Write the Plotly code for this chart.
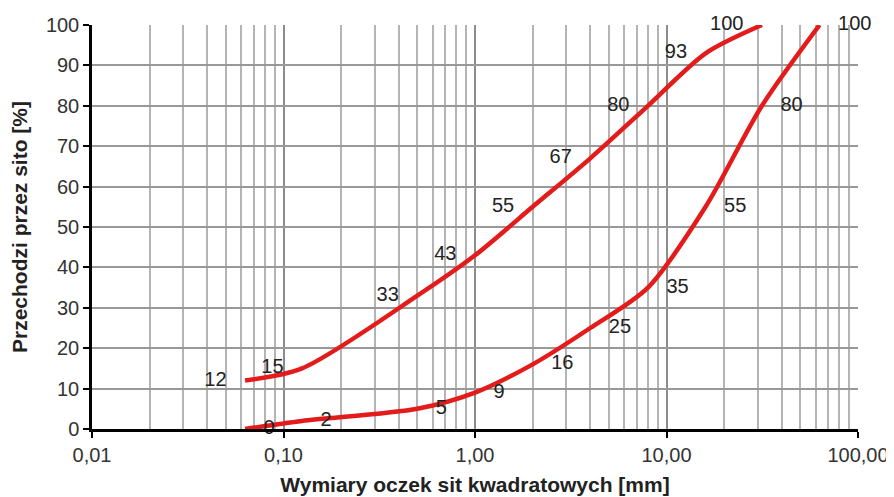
import plotly.graph_objects as go

sieve_upper = [0.063, 0.125, 0.5, 1, 2, 4, 8, 16, 31.5]
pass_upper = [12, 15, 33, 43, 55, 67, 80, 93, 100]
sieve_lower = [0.063, 0.125, 0.5, 1, 2, 4, 8, 16, 31.5, 63]
pass_lower = [0, 2, 5, 9, 16, 25, 35, 55, 80, 100]

x_tickvals = [0.01, 0.1, 1, 10, 100]
x_ticktext = ["0,01", "0,10", "1,00", "10,00", "100,00"]
y_tickvals = [0, 10, 20, 30, 40, 50, 60, 70, 80, 90, 100]

RED = "#e31b1b"
FONT = "Liberation Sans, Arial, sans-serif"

fig = go.Figure()
fig.add_trace(go.Scatter(
    x=sieve_upper, y=pass_upper, mode="lines+markers+text",
    line=dict(color=RED, width=4.5, shape="spline", smoothing=0.8),
    marker=dict(size=28, opacity=0, color=RED),
    text=[str(v) for v in pass_upper], textposition="middle left",
    textfont=dict(family=FONT, size=20, color="#222"),
    cliponaxis=False, showlegend=False, hoverinfo="x+y"))
fig.add_trace(go.Scatter(
    x=sieve_lower, y=pass_lower, mode="lines+markers+text",
    line=dict(color=RED, width=4.5, shape="spline", smoothing=0.8),
    marker=dict(size=28, opacity=0, color=RED),
    text=[str(v) for v in pass_lower], textposition="middle right",
    textfont=dict(family=FONT, size=20, color="#222"),
    cliponaxis=False, showlegend=False, hoverinfo="x+y"))

fig.update_layout(
    width=886, height=489,
    margin=dict(l=84, r=36, t=17, b=68, autoexpand=False),
    paper_bgcolor="white", plot_bgcolor="white",
    font=dict(family=FONT, color="#333"),
    xaxis=dict(
        type="log", range=[-2, 2],
        tickmode="array", tickvals=x_tickvals, ticktext=x_ticktext,
        tickfont=dict(size=20, color="#333"),
        showgrid=True, gridcolor="#8c8c8c", gridwidth=1.5,
        minor=dict(dtick="D1", showgrid=True, gridcolor="#b4b4b4", gridwidth=1.5, ticks=""),
        showline=True, linecolor="black", linewidth=2.5,
        ticks="outside", ticklen=6, tickwidth=2, tickcolor="black",
        zeroline=False, automargin=False,
        title=dict(text="<b>Wymiary oczek sit kwadratowych [mm]</b>", font=dict(size=21, color="#222"), standoff=13),
    ),
    yaxis=dict(
        range=[0, 100], tickmode="array", tickvals=y_tickvals,
        tickfont=dict(size=20, color="#333"),
        showgrid=True, gridcolor="#999999", gridwidth=1.5,
        showline=True, linecolor="black", linewidth=2.5,
        ticks="outside", ticklen=6, tickwidth=2, tickcolor="black",
        zeroline=False, automargin=False,
        title=dict(text="<b>Przechodzi przez sito [%]</b>", font=dict(size=21, color="#222"), standoff=16),
    ),
)

fig.write_html("out.html")
